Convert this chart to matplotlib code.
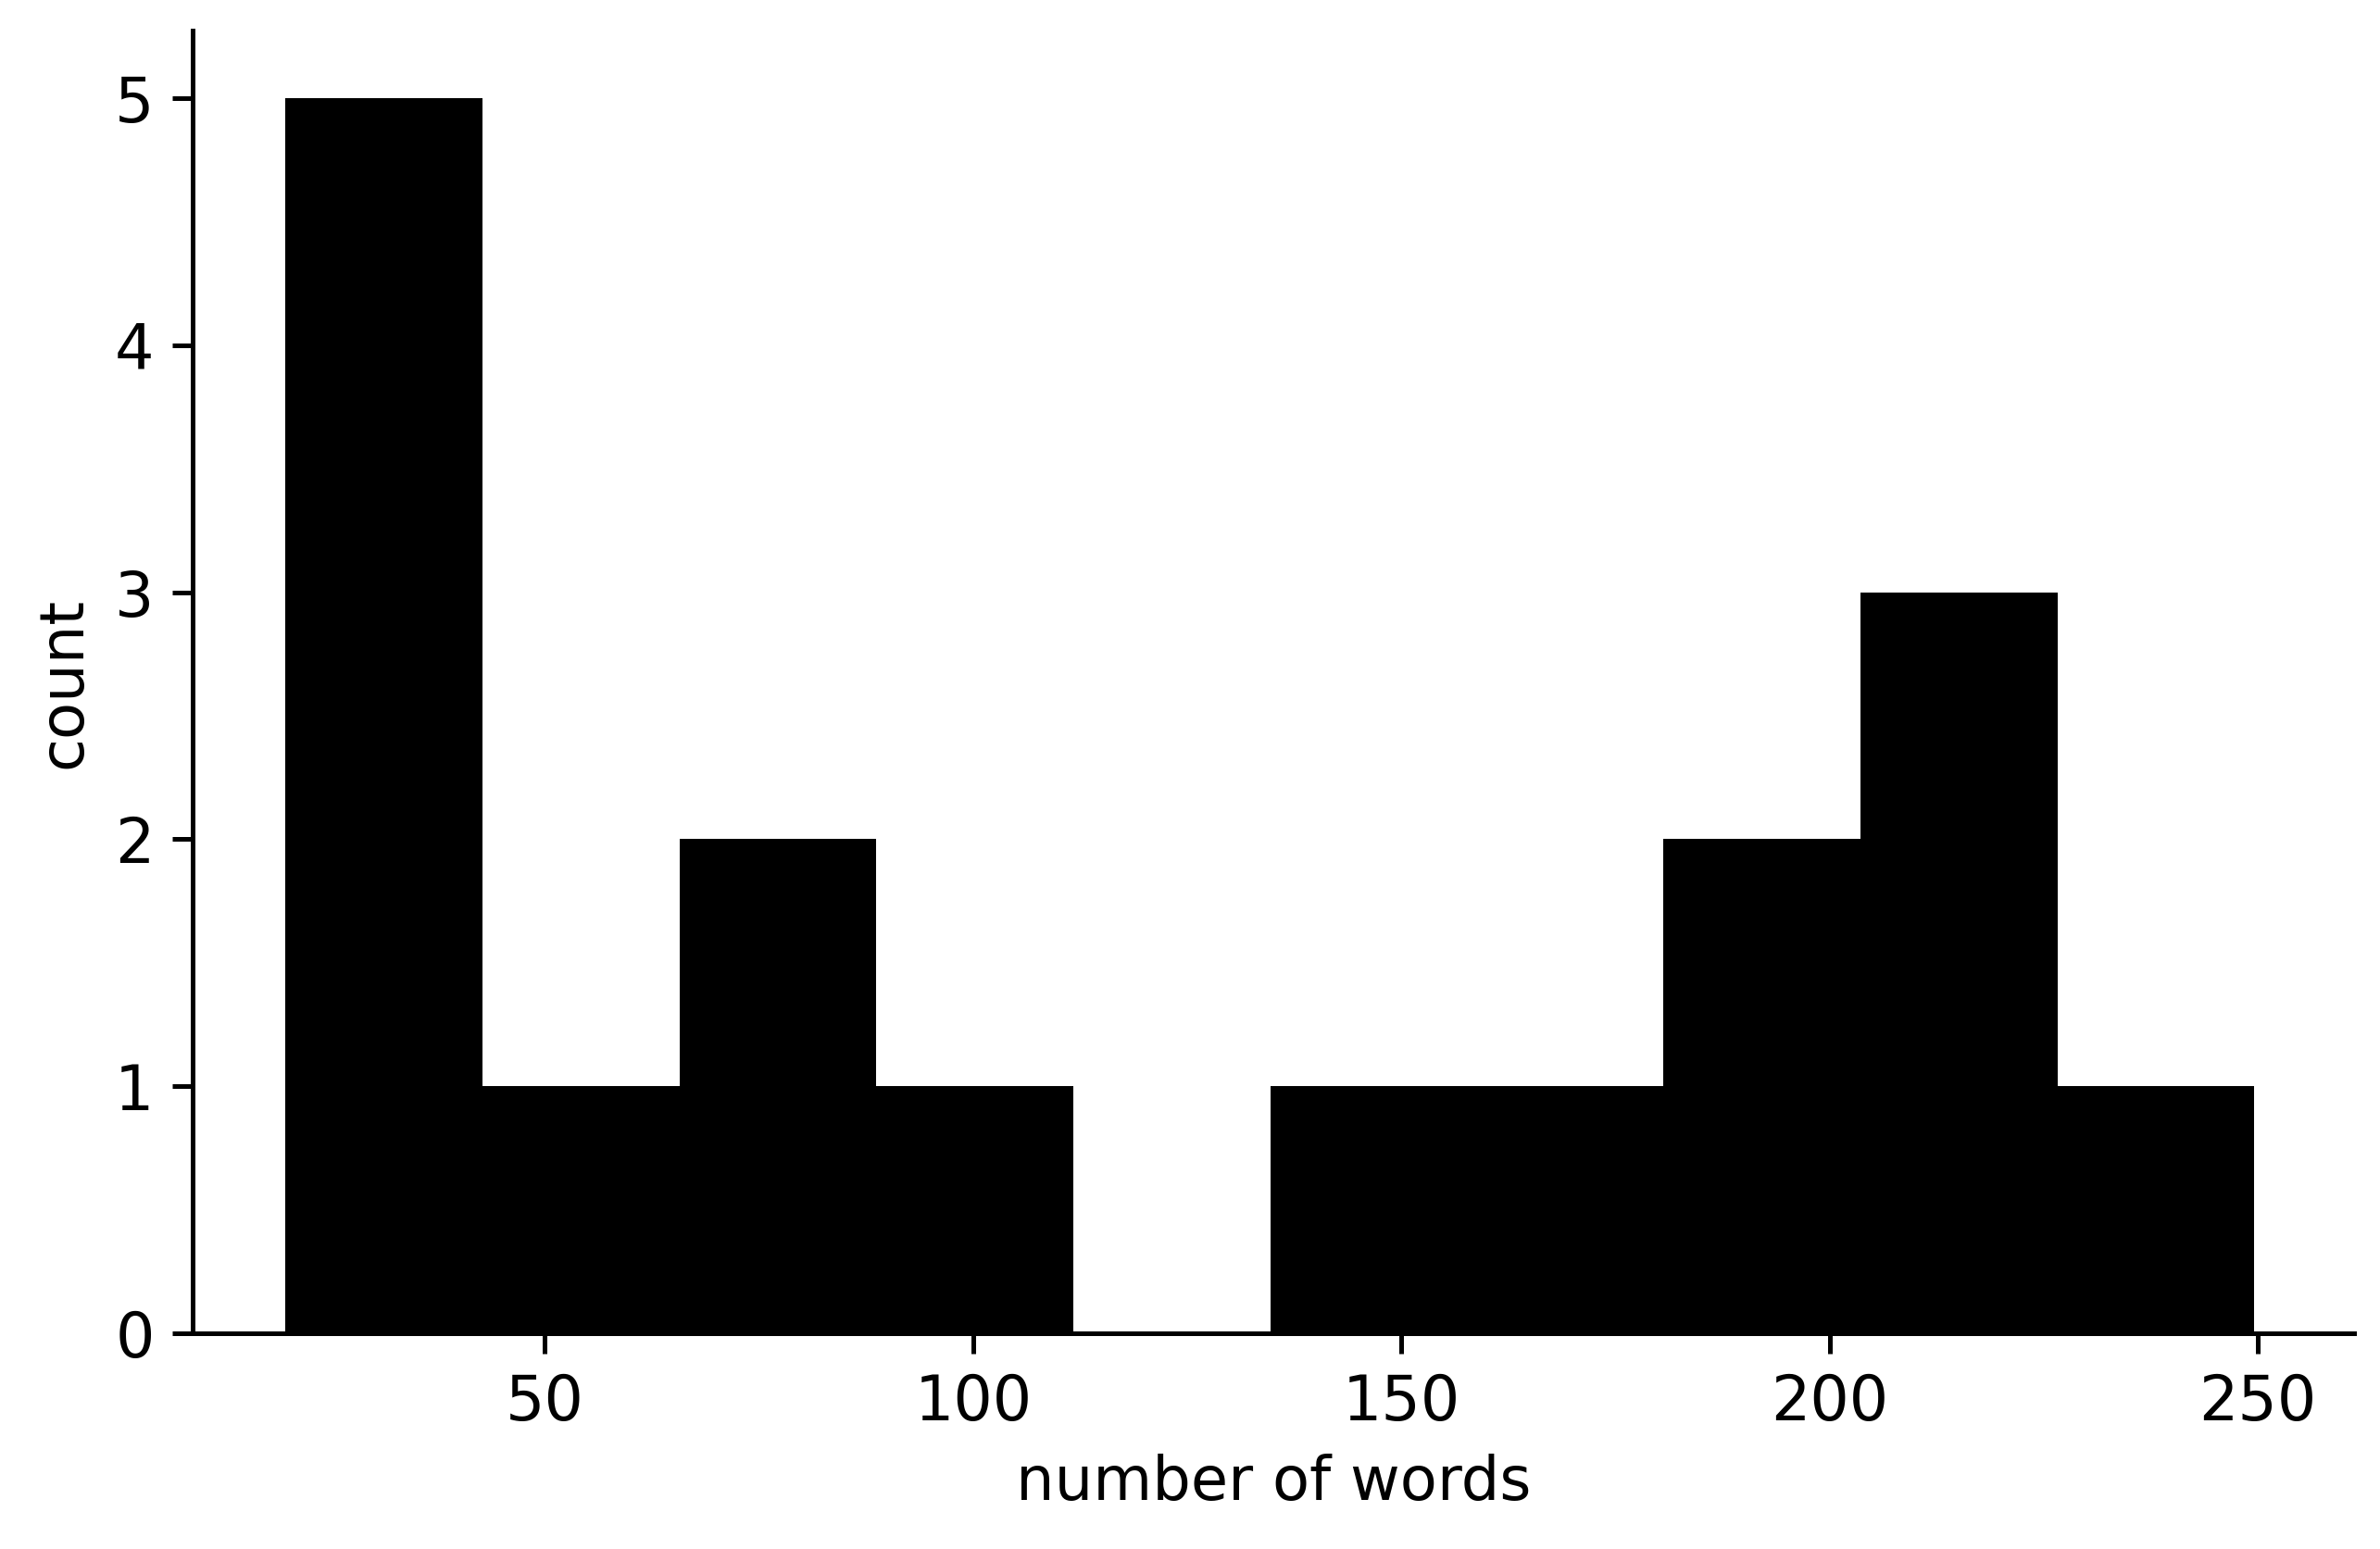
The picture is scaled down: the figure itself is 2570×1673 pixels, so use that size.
import matplotlib
matplotlib.use("Agg")
import matplotlib.pyplot as plt
import numpy as np

# histogram of word counts, 10 bins
bin_edges = np.array([19.7, 42.7, 65.7, 88.7, 111.7, 134.7, 157.6, 180.6, 203.6, 226.6, 249.6])
counts = np.array([5, 1, 2, 1, 0, 1, 1, 2, 3, 1])

plt.rcParams["font.family"] = ["DejaVu Sans"]
plt.rcParams["font.size"] = 12

fig = plt.figure(figsize=(2570 / 400, 1673 / 400), dpi=400)
ax = fig.add_axes([0.081, 0.139, 0.908, 0.841])

ax.hist(bin_edges[:-1], bins=bin_edges, weights=counts, color="black")

ax.set_xlim(8.9, 261.2)
ax.set_ylim(0, 5.27)
ax.spines["top"].set_visible(False)
ax.spines["right"].set_visible(False)
for side in ["left", "bottom"]:
    ax.spines[side].set_linewidth(0.9)
ax.tick_params(width=0.9, length=4, labelsize=12)
ax.set_xticks([50, 100, 150, 200, 250])
ax.set_yticks([0, 1, 2, 3, 4, 5])
ax.set_xlabel("number of words", fontsize=11.8)
ax.set_ylabel("count", fontsize=11.8)

fig.savefig("out.png", dpi=400)
